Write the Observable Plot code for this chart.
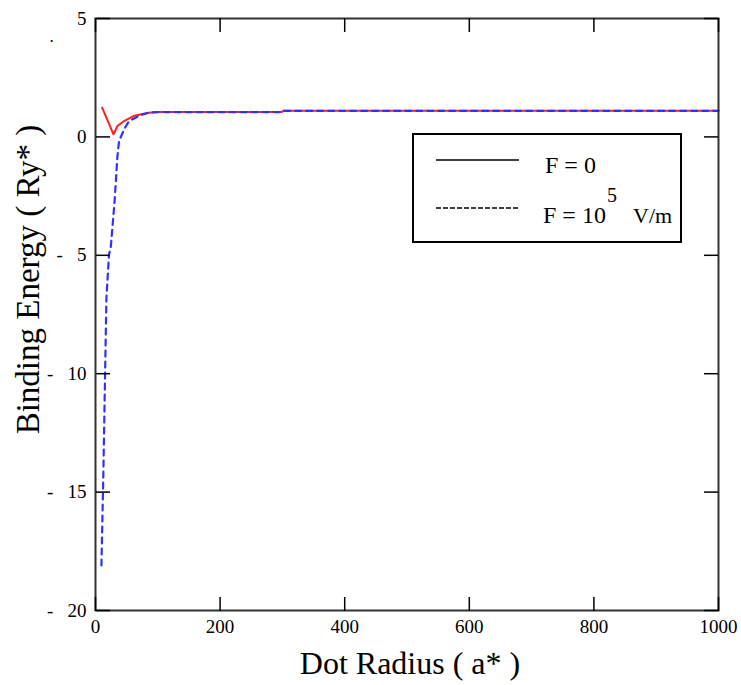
<!DOCTYPE html>
<html><head><meta charset="utf-8">
<script src="https://cdn.jsdelivr.net/npm/d3@7"></script>
<script src="https://cdn.jsdelivr.net/npm/@observablehq/plot@0.6"></script>
<style>
body{margin:0;background:#fff}
#chart svg, #chart svg text{font-family:"Liberation Serif",serif !important;}
</style>
</head><body><div id="chart"></div>
<script>
// F = 0 series (solid red)
const radiusF0 = [10.8, 28.9, 35.2, 45.8, 60.9, 72, 86, 100, 200, 299, 301, 400, 500, 600, 700, 800, 900, 1000];
const energyF0 = [1.23, 0.11, 0.46, 0.67, 0.88, 0.95, 1.02, 1.05, 1.05, 1.05, 1.10, 1.10, 1.10, 1.10, 1.10, 1.10, 1.10, 1.10];
// F = 10^5 V/m series (dashed blue)
const radiusF1 = [9.5, 12.4, 15, 17.5, 21.7, 24.4, 30.7, 35, 37.8, 45.9, 53.9, 72, 85, 100, 200, 299, 301, 400, 500, 600, 700, 800, 900, 1000];
const energyF1 = [-18.1, -14.5, -10.6, -6.8, -4.95, -4.7, -2.7, -0.88, -0.18, 0.32, 0.67, 0.92, 1.02, 1.05, 1.05, 1.05, 1.10, 1.10, 1.10, 1.10, 1.10, 1.10, 1.10, 1.10];

const xTicks = [0, 200, 400, 600, 800, 1000];
const yTicks = [-20, -15, -10, -5, 0, 5];
const xLabel = "Dot Radius ( a* )";
const yLabel = "Binding Energy ( Ry* )";
const legendF0 = "F = 0";
const legendF1 = "F = 10";
const legendExp = "5";
const legendUnit = "V/m";

const fmtX = d => String(d);
const fmtY = d => d < 0 ? "-" + "\u00a0".repeat(3) + Math.abs(d) : String(d);

const f0 = radiusF0.map((r, i) => ({r, e: energyF0[i]}));
const f1 = radiusF1.map((r, i) => ({r, e: energyF1[i]}));

const serif = "Liberation Serif, serif";

const plot = Plot.plot({
  width: 741, height: 685,
  marginLeft: 95, marginRight: 23, marginTop: 18, marginBottom: 75,
  style: {fontFamily: serif, background: "#fff", color: "#000"},
  x: {domain: [0, 1000]},
  y: {domain: [-20, 5]},
  marks: [
    Plot.line(f0, {x: "r", y: "e", stroke: "#ff2020", strokeWidth: 2}),
    Plot.line(f1, {x: "r", y: "e", stroke: "#3030ff", strokeWidth: 2.2, strokeDasharray: "6,5"}),
    Plot.frame({stroke: "#333", strokeWidth: 2}),
    Plot.axisX(xTicks, {anchor: "bottom", tickSize: 0, tickPadding: 9, fontSize: 19, label: null, tickFormat: fmtX}),
    Plot.axisY(yTicks, {anchor: "left", tickSize: 0, tickPadding: 9, fontSize: 19, label: null, tickFormat: fmtY}),
    Plot.axisX(xTicks, {anchor: "top", frameAnchor: "bottom", tickSize: 14, strokeWidth: 1.5, fill: "none"}),
    Plot.axisX(xTicks, {anchor: "bottom", frameAnchor: "top", tickSize: 14, strokeWidth: 1.5, fill: "none"}),
    Plot.axisY(yTicks, {anchor: "right", frameAnchor: "left", tickSize: 14, strokeWidth: 1.5, fill: "none"}),
    Plot.axisY(yTicks, {anchor: "left", frameAnchor: "right", tickSize: 14, strokeWidth: 1.5, fill: "none"}),
    Plot.text([xLabel], {frameAnchor: "bottom", dx: 3, dy: 53, fontSize: 32, textAnchor: "middle", lineAnchor: "middle"}),
    Plot.text([yLabel], {frameAnchor: "left", rotate: -90, dx: -67, dy: -35, fontSize: 33, textAnchor: "middle", lineAnchor: "middle"}),
    Plot.text(["."], {frameAnchor: "top-left", dx: -44, dy: 18, fontSize: 17, textAnchor: "middle", lineAnchor: "middle"})
  ]
});

// Legend box (inside plot area)
const svg = d3.select(plot);
const lg = svg.append("g").attr("font-family", serif).attr("fill", "#000").attr("text-anchor", "start");
lg.append("rect").attr("x", 413).attr("y", 134).attr("width", 268).attr("height", 108)
  .attr("fill", "#fff").attr("stroke", "#000").attr("stroke-width", 2);
lg.append("line").attr("x1", 436).attr("x2", 519).attr("y1", 160).attr("y2", 160)
  .attr("stroke", "#000").attr("stroke-width", 1.5);
lg.append("line").attr("x1", 436).attr("x2", 518).attr("y1", 208).attr("y2", 208)
  .attr("stroke", "#000").attr("stroke-width", 1.5).attr("stroke-dasharray", "5,2");
lg.append("text").attr("x", 545).attr("y", 173).attr("font-size", 24).text(legendF0);
lg.append("text").attr("x", 543).attr("y", 223).attr("font-size", 24).text(legendF1);
lg.append("text").attr("x", 607).attr("y", 202).attr("font-size", 20).text(legendExp);
lg.append("text").attr("x", 633).attr("y", 223).attr("font-size", 22).text(legendUnit);

document.getElementById("chart").appendChild(plot);
</script>
</body></html>
